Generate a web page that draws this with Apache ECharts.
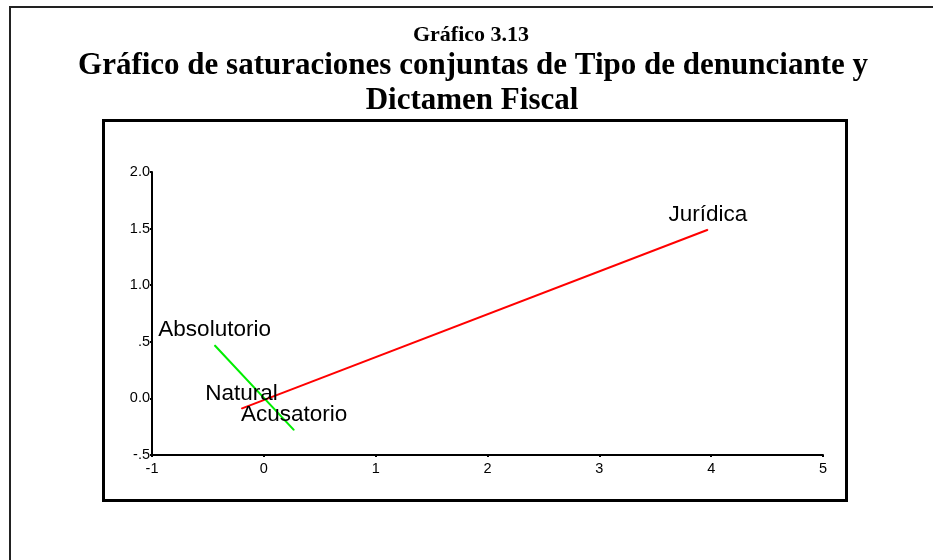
<!DOCTYPE html>
<html>
<head>
<meta charset="utf-8">
<script src="https://cdn.jsdelivr.net/npm/echarts@6/dist/echarts.min.js"></script>
<style>
html,body{margin:0;padding:0;background:#fff;}
#chart{width:933px;height:560px;}
</style>
</head>
<body>
<div id="chart"></div>
<script>
// puntos de cada variable (dimension 1, dimension 2)
var denuncianteNames=['Natural','Jurídica'];
var denuncianteX=[-0.20,3.97];
var denuncianteY=[-0.09,1.49];
var dictamenNames=['Absolutorio','Acusatorio'];
var dictamenX=[-0.44,0.27];
var dictamenY=[0.47,-0.28];
var yTickLabels={'2':'2.0','1.5':'1.5','1':'1.0','0.5':'.5','0':'0.0','-0.5':'-.5'};

function toPoints(names,xs,ys){
    var out=[];
    for(var i=0;i<names.length;i++){
        out.push({name:names[i],value:[xs[i],ys[i]]});
    }
    return out;
}

var chart=echarts.init(document.getElementById('chart'));
var serif='Liberation Serif, Times New Roman, serif';
var labelStyle={
    show:true,
    position:'top',
    distance:3,
    formatter:'{b}',
    color:'#000',
    fontFamily:'Liberation Sans, Arial, sans-serif',
    fontSize:22.5
};
var option={
    animation:false,
    backgroundColor:'#fff',
    graphic:[{
        type:'polyline',
        shape:{points:[[10,560],[10,7],[933,7]]},
        style:{stroke:'#222',lineWidth:2,fill:null}
    },{
        type:'rect',
        shape:{x:103.5,y:120.5,width:743,height:380},
        style:{stroke:'#000',lineWidth:3,fill:null}
    },{
        type:'text',x:471,y:35,
        style:{text:'Gráfico 3.13',align:'center',verticalAlign:'middle',font:'bold 22px '+serif,fill:'#000'}
    },{
        type:'text',x:473,y:66,
        style:{text:'Gráfico de saturaciones conjuntas de Tipo de denunciante y',align:'center',verticalAlign:'middle',font:'bold 31px '+serif,fill:'#000'}
    },{
        type:'text',x:472,y:101,
        style:{text:'Dictamen Fiscal',align:'center',verticalAlign:'middle',font:'bold 31px '+serif,fill:'#000'}
    }],
    grid:{left:152,top:172,right:110,bottom:105},
    xAxis:{
        type:'value',
        min:-1,max:5,interval:1,
        axisLine:{show:true,onZero:false,lineStyle:{color:'#000',width:2}},
        axisTick:{show:true,length:2,lineStyle:{color:'#000',width:2}},
        axisLabel:{color:'#000',fontFamily:'Liberation Sans, Arial, sans-serif',fontSize:14.5,margin:6},
        splitLine:{show:false}
    },
    yAxis:{
        type:'value',
        min:-0.5,max:2,interval:0.5,
        axisLine:{show:true,onZero:false,lineStyle:{color:'#000',width:2}},
        axisTick:{show:true,length:2,lineStyle:{color:'#000',width:2}},
        axisLabel:{color:'#000',fontFamily:'Liberation Sans, Arial, sans-serif',fontSize:14.5,margin:2,
            formatter:function(v){return yTickLabels[String(v)]||v;}},
        splitLine:{show:false}
    },
    series:[{
        name:'Tipo de denunciante',
        type:'line',
        data:toPoints(denuncianteNames,denuncianteX,denuncianteY),
        symbol:'circle',symbolSize:1,
        itemStyle:{color:'#ff0000'},
        lineStyle:{color:'#ff0000',width:2},
        label:labelStyle
    },{
        name:'Dictamen Fiscal',
        type:'line',
        data:toPoints(dictamenNames,dictamenX,dictamenY),
        symbol:'circle',symbolSize:1,
        itemStyle:{color:'#00ee00'},
        lineStyle:{color:'#00ee00',width:2},
        label:labelStyle
    }]
};
chart.setOption(option);
</script>
</body>
</html>
